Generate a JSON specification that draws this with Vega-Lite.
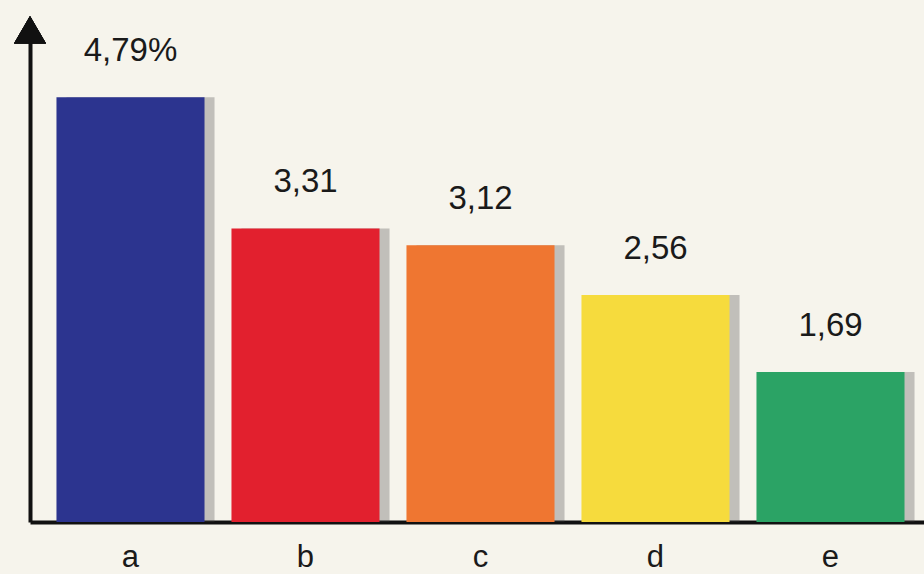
{
  "$schema": "https://vega.github.io/schema/vega-lite/v6.json",
  "width": 894,
  "height": 502,
  "autosize": "none",
  "padding": {"left": 30, "top": 20, "right": 0, "bottom": 52},
  "background": "#f6f4ec",
  "config": {"view": {"stroke": null}, "font": "Liberation Sans"},
  "data": {
    "values": [
      {"cat": "a", "value": 4.79, "label": "4,79%"},
      {"cat": "b", "value": 3.31, "label": "3,31"},
      {"cat": "c", "value": 3.12, "label": "3,12"},
      {"cat": "d", "value": 2.56, "label": "2,56"},
      {"cat": "e", "value": 1.69, "label": "1,69"}
    ]
  },
  "layer": [
    {
      "encoding": {
        "x": {
          "field": "cat",
          "type": "nominal",
          "scale": {"paddingInner": 0.154, "paddingOuter": 0.1313, "align": 0.576},
          "axis": {
            "title": null,
            "domain": true,
            "domainColor": "#111111",
            "domainWidth": 4,
            "ticks": false,
            "labelAngle": 0,
            "labelFontSize": 31,
            "labelColor": "#1a1a1a",
            "labelPadding": 20,
            "labelBaseline": "top"
          }
        },
        "y": {
          "field": "value",
          "type": "quantitative",
          "scale": {"domain": [0, 5.66], "nice": false, "zero": true},
          "axis": {
            "title": null,
            "domain": true,
            "domainColor": "#111111",
            "domainWidth": 4,
            "ticks": false,
            "labels": false,
            "grid": false
          }
        }
      },
      "layer": [
        {
          "mark": {"type": "bar", "color": "#444444", "opacity": 0.3, "xOffset": 10}
        },
        {
          "mark": {"type": "bar"},
          "encoding": {
            "color": {
              "field": "cat",
              "type": "nominal",
              "scale": {"range": ["#2c348f", "#e2202e", "#ef7631", "#f6db3d", "#2ba365"]},
              "legend": null
            }
          }
        },
        {
          "mark": {"type": "text", "fontSize": 33, "dy": -36, "baseline": "alphabetic", "color": "#1a1a1a"},
          "encoding": {"text": {"field": "label"}}
        }
      ]
    },
    {
      "mark": {"type": "point", "shape": "triangle-up", "filled": true, "size": 1024, "color": "#111111", "opacity": 1},
      "encoding": {
        "x": {"datum": 0, "type": "quantitative", "scale": {"domain": [0, 1]}, "axis": null},
        "y": {"datum": 5.55, "type": "quantitative"}
      }
    }
  ],
  "resolve": {"scale": {"x": "independent"}}
}
